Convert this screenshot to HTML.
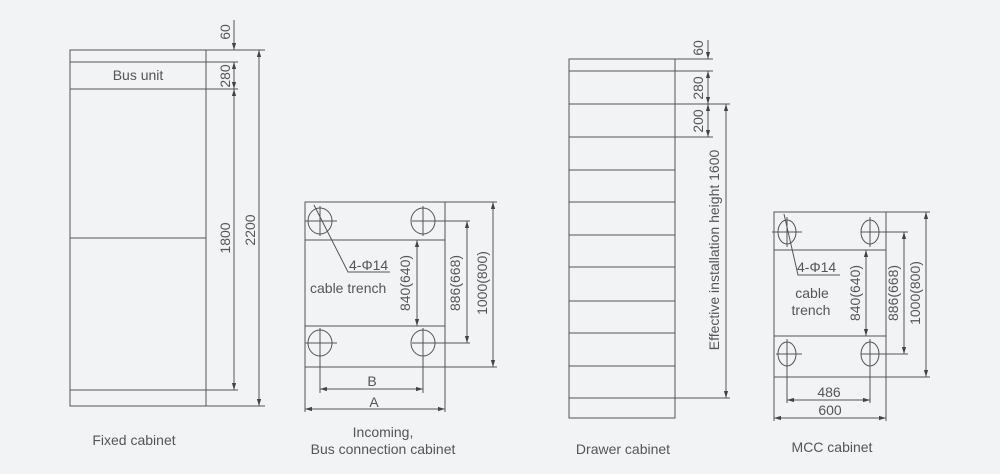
<!DOCTYPE html>
<html><head><meta charset="utf-8"><style>
html,body{margin:0;padding:0;background:#f2f3f5;}
svg{display:block;font-family:"Liberation Sans",sans-serif;}
</style></head><body>
<svg width="1000" height="474" viewBox="0 0 1000 474" xmlns="http://www.w3.org/2000/svg">
<defs>
<marker id="a" viewBox="0 0 10 10" refX="10" refY="5" markerWidth="7" markerHeight="7" orient="auto-start-reverse"><path d="M0,2 L10,5 L0,8 z" fill="#444"/></marker>
</defs>
<rect width="1000" height="474" fill="#f2f3f5"/>
<g stroke="#555" stroke-width="1" fill="none">
<rect x="70" y="50" width="136" height="356"/>
<line x1="70" y1="62" x2="238" y2="62"/>
<line x1="70" y1="89" x2="238" y2="89"/>
<line x1="70" y1="238" x2="206" y2="238"/>
<line x1="70" y1="390" x2="238" y2="390"/>
<line x1="206" y1="50" x2="265" y2="50"/>
<line x1="206" y1="406" x2="265" y2="406"/>
<line x1="234" y1="20" x2="234" y2="50" marker-end="url(#a)"/>
<line x1="234" y1="62" x2="234" y2="89" marker-start="url(#a)" marker-end="url(#a)"/>
<line x1="234" y1="89" x2="234" y2="390" marker-start="url(#a)" marker-end="url(#a)"/>
<line x1="259" y1="50" x2="259" y2="406" marker-start="url(#a)" marker-end="url(#a)"/>
<rect x="305" y="202" width="140" height="165"/>
<line x1="305" y1="240" x2="445" y2="240"/>
<line x1="305" y1="326" x2="445" y2="326"/>
<ellipse cx="320" cy="221" rx="12" ry="13"/><ellipse cx="423" cy="221" rx="12" ry="13"/>
<ellipse cx="320" cy="343" rx="12" ry="13"/><ellipse cx="423" cy="343" rx="12" ry="13"/>
<line x1="305" y1="221" x2="337" y2="221"/><line x1="320" y1="206" x2="320" y2="236"/>
<line x1="412" y1="221" x2="470" y2="221"/><line x1="423" y1="206" x2="423" y2="236"/>
<line x1="305" y1="343" x2="337" y2="343"/><line x1="320" y1="328" x2="320" y2="393"/>
<line x1="412" y1="343" x2="470" y2="343"/><line x1="423" y1="328" x2="423" y2="393"/>
<line x1="305" y1="367" x2="305" y2="412"/><line x1="445" y1="367" x2="445" y2="412"/>
<line x1="445" y1="202" x2="497" y2="202"/><line x1="445" y1="367" x2="497" y2="367"/>
<line x1="417" y1="240" x2="417" y2="326" marker-start="url(#a)" marker-end="url(#a)"/>
<line x1="467" y1="221" x2="467" y2="343" marker-start="url(#a)" marker-end="url(#a)"/>
<line x1="493" y1="202" x2="493" y2="367" marker-start="url(#a)" marker-end="url(#a)"/>
<line x1="320" y1="389" x2="423" y2="389" marker-start="url(#a)" marker-end="url(#a)"/>
<line x1="305" y1="409" x2="445" y2="409" marker-start="url(#a)" marker-end="url(#a)"/>
<polyline points="314,205 348,272 390,272"/>
<rect x="569" y="59" width="106" height="359"/>
<line x1="569" y1="71" x2="713" y2="71"/>
<line x1="569" y1="104" x2="730" y2="104"/>
<line x1="569" y1="137" x2="713" y2="137"/>
<line x1="569" y1="170" x2="675" y2="170"/>
<line x1="569" y1="202" x2="675" y2="202"/>
<line x1="569" y1="235" x2="675" y2="235"/>
<line x1="569" y1="267" x2="675" y2="267"/>
<line x1="569" y1="301" x2="675" y2="301"/>
<line x1="569" y1="333" x2="675" y2="333"/>
<line x1="569" y1="366" x2="675" y2="366"/>
<line x1="569" y1="398" x2="730" y2="398"/>
<line x1="675" y1="59" x2="713" y2="59"/>
<line x1="708" y1="40" x2="708" y2="59" marker-end="url(#a)"/>
<line x1="708" y1="71" x2="708" y2="104" marker-start="url(#a)" marker-end="url(#a)"/>
<line x1="708" y1="104" x2="708" y2="137" marker-start="url(#a)" marker-end="url(#a)"/>
<line x1="726" y1="104" x2="726" y2="398" marker-start="url(#a)" marker-end="url(#a)"/>
<rect x="774" y="212" width="112" height="165"/>
<line x1="774" y1="250" x2="886" y2="250"/>
<line x1="774" y1="336" x2="886" y2="336"/>
<ellipse cx="787" cy="232" rx="9" ry="12"/><ellipse cx="870" cy="232" rx="9" ry="12"/>
<ellipse cx="787" cy="354" rx="9" ry="12"/><ellipse cx="870" cy="354" rx="9" ry="12"/>
<line x1="772" y1="232" x2="802" y2="232"/><line x1="787" y1="217" x2="787" y2="247"/>
<line x1="861" y1="232" x2="908" y2="232"/><line x1="870" y1="217" x2="870" y2="247"/>
<line x1="776" y1="354" x2="802" y2="354"/><line x1="787" y1="339" x2="787" y2="403"/>
<line x1="861" y1="354" x2="908" y2="354"/><line x1="870" y1="339" x2="870" y2="403"/>
<line x1="774" y1="377" x2="774" y2="421"/><line x1="886" y1="377" x2="886" y2="421"/>
<line x1="886" y1="212" x2="930" y2="212"/><line x1="886" y1="377" x2="930" y2="377"/>
<line x1="866" y1="250" x2="866" y2="336" marker-start="url(#a)" marker-end="url(#a)"/>
<line x1="904" y1="232" x2="904" y2="354" marker-start="url(#a)" marker-end="url(#a)"/>
<line x1="926" y1="212" x2="926" y2="377" marker-start="url(#a)" marker-end="url(#a)"/>
<line x1="787" y1="400" x2="870" y2="400" marker-start="url(#a)" marker-end="url(#a)"/>
<line x1="774" y1="418" x2="886" y2="418" marker-start="url(#a)" marker-end="url(#a)"/>
<polyline points="784,214 798,275 840,275"/>
</g>
<g fill="#555" font-size="14">
<text x="138" y="80" text-anchor="middle">Bus unit</text>
<text transform="translate(230,32) rotate(-90)" text-anchor="middle">60</text>
<text transform="translate(230,76) rotate(-90)" text-anchor="middle">280</text>
<text transform="translate(230,238) rotate(-90)" text-anchor="middle">1800</text>
<text transform="translate(255,230) rotate(-90)" text-anchor="middle">2200</text>
<text x="349" y="270">4-Φ14</text>
<text x="310" y="293">cable trench</text>
<text transform="translate(410,283) rotate(-90)" text-anchor="middle">840(640)</text>
<text transform="translate(460,283) rotate(-90)" text-anchor="middle">886(668)</text>
<text transform="translate(487,283) rotate(-90)" text-anchor="middle">1000(800)</text>
<text x="372" y="386" text-anchor="middle">B</text>
<text x="374" y="407" text-anchor="middle">A</text>
<text transform="translate(703,48) rotate(-90)" text-anchor="middle">60</text>
<text transform="translate(703,88) rotate(-90)" text-anchor="middle">280</text>
<text transform="translate(703,121) rotate(-90)" text-anchor="middle">200</text>
<text transform="translate(719,250) rotate(-90)" text-anchor="middle">Effective installation height 1600</text>
<text x="797" y="272">4-Φ14</text>
<text x="812" y="298" text-anchor="middle">cable</text>
<text x="811" y="315" text-anchor="middle">trench</text>
<text transform="translate(860,293) rotate(-90)" text-anchor="middle">840(640)</text>
<text transform="translate(898,293) rotate(-90)" text-anchor="middle">886(668)</text>
<text transform="translate(920,293) rotate(-90)" text-anchor="middle">1000(800)</text>
<text x="829" y="397" text-anchor="middle">486</text>
<text x="830" y="415" text-anchor="middle">600</text>
<text x="134" y="445" text-anchor="middle">Fixed cabinet</text>
<text x="383" y="437" text-anchor="middle">Incoming,</text>
<text x="383" y="454" text-anchor="middle">Bus connection cabinet</text>
<text x="623" y="454" text-anchor="middle">Drawer cabinet</text>
<text x="832" y="452" text-anchor="middle">MCC cabinet</text>
</g>
</svg>
</body></html>
